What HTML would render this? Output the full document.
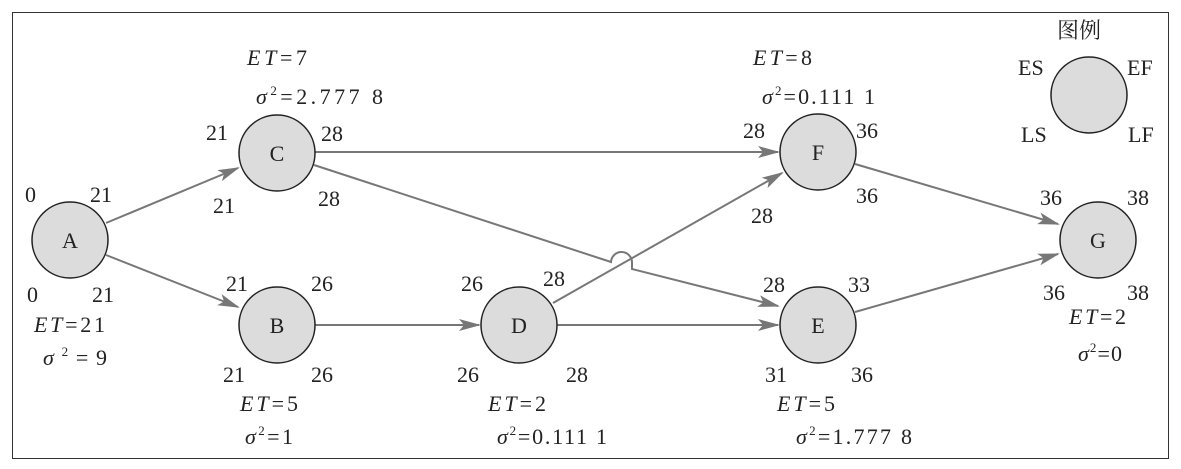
<!DOCTYPE html>
<html><head><meta charset="utf-8"><style>
html,body{margin:0;padding:0;background:#fff;}
svg{display:block;}
text{font-family:"Liberation Serif","Noto Serif CJK SC",serif;font-size:22px;fill:#222;}
.i{font-style:italic;}
</style></head><body>
<svg width="1181" height="469" viewBox="0 0 1181 469" xmlns="http://www.w3.org/2000/svg">
<defs><marker id="ar" markerWidth="22" markerHeight="12" refX="20" refY="6" orient="auto" markerUnits="userSpaceOnUse"><path d="M0,0 L22,6 L0,12 L5,6 Z" fill="#777"/></marker></defs>
<rect x="12.5" y="12.5" width="1156" height="446" fill="none" stroke="#333" stroke-width="1"/>
<g stroke="#777" stroke-width="2" fill="none">
<line x1="106" y1="223" x2="238" y2="168" marker-end="url(#ar)"/>
<line x1="106" y1="255" x2="238" y2="307" marker-end="url(#ar)"/>
<line x1="315" y1="152" x2="778" y2="152" marker-end="url(#ar)"/>
<path d="M314,165 L611,262 A10.5 10.5 0 0 1 632,263 L632,269 L778,306" marker-end="url(#ar)"/>
<line x1="315" y1="325" x2="479" y2="325" marker-end="url(#ar)"/>
<line x1="556" y1="325" x2="778" y2="325" marker-end="url(#ar)"/>
<line x1="553" y1="303" x2="782" y2="173" marker-end="url(#ar)"/>
<line x1="855" y1="164" x2="1058" y2="224" marker-end="url(#ar)"/>
<line x1="855" y1="312" x2="1058" y2="254" marker-end="url(#ar)"/>
</g>
<g fill="#dcdcdc" stroke="#222" stroke-width="1.5">
<circle cx="70" cy="240" r="38"/><circle cx="277" cy="153" r="38"/><circle cx="277" cy="325" r="38"/>
<circle cx="519" cy="325" r="38"/><circle cx="818" cy="152" r="38"/><circle cx="818" cy="325" r="38"/>
<circle cx="1098" cy="240" r="38"/><circle cx="1089" cy="95" r="38"/>
</g>
<g text-anchor="middle" style="font-size:23px">
<text x="70" y="248">A</text><text x="277" y="161">C</text><text x="277" y="333">B</text>
<text x="519" y="333">D</text><text x="818" y="160">F</text><text x="818" y="333">E</text><text x="1098" y="248">G</text>
</g>
<text x="25" y="202">0</text><text x="90" y="202">21</text><text x="27" y="302">0</text><text x="92" y="302">21</text>
<text x="34" y="332" textLength="71" lengthAdjust="spacing"><tspan class="i">ET</tspan>=21</text>
<text x="43" y="365" textLength="64" lengthAdjust="spacing"><tspan class="i">σ</tspan><tspan font-size="13" dy="-9">2</tspan><tspan dy="9">=9</tspan></text>
<text x="206" y="140">21</text><text x="321" y="141">28</text><text x="213" y="213">21</text><text x="318" y="206">28</text>
<text x="247" y="65" textLength="60" lengthAdjust="spacing"><tspan class="i">ET</tspan>=7</text>
<text x="256" y="104" textLength="127" lengthAdjust="spacing"><tspan class="i">σ</tspan><tspan font-size="13" dy="-9">2</tspan><tspan dy="9">=2.777 8</tspan></text>
<text x="226" y="291">21</text><text x="311" y="291">26</text><text x="223" y="382">21</text><text x="311" y="382">26</text>
<text x="240" y="411" textLength="58" lengthAdjust="spacing"><tspan class="i">ET</tspan>=5</text>
<text x="245" y="444" textLength="48" lengthAdjust="spacing"><tspan class="i">σ</tspan><tspan font-size="13" dy="-9">2</tspan><tspan dy="9">=1</tspan></text>
<text x="461" y="291">26</text><text x="543" y="286">28</text><text x="457" y="382">26</text><text x="566" y="382">28</text>
<text x="488" y="411" textLength="58" lengthAdjust="spacing"><tspan class="i">ET</tspan>=2</text>
<text x="497" y="444" textLength="110" lengthAdjust="spacing"><tspan class="i">σ</tspan><tspan font-size="13" dy="-9">2</tspan><tspan dy="9">=0.111 1</tspan></text>
<text x="743" y="138">28</text><text x="856" y="138">36</text><text x="856" y="203">36</text><text x="751" y="223">28</text>
<text x="753" y="65" textLength="59" lengthAdjust="spacing"><tspan class="i">ET</tspan>=8</text>
<text x="762" y="104" textLength="113" lengthAdjust="spacing"><tspan class="i">σ</tspan><tspan font-size="13" dy="-9">2</tspan><tspan dy="9">=0.111 1</tspan></text>
<text x="763" y="292">28</text><text x="848" y="292">33</text><text x="765" y="382">31</text><text x="851" y="382">36</text>
<text x="777" y="411" textLength="58" lengthAdjust="spacing"><tspan class="i">ET</tspan>=5</text>
<text x="796" y="444" textLength="116" lengthAdjust="spacing"><tspan class="i">σ</tspan><tspan font-size="13" dy="-9">2</tspan><tspan dy="9">=1.777 8</tspan></text>
<text x="1040" y="205">36</text><text x="1127" y="205">38</text><text x="1043" y="300">36</text><text x="1127" y="300">38</text>
<text x="1069" y="324" textLength="57" lengthAdjust="spacing"><tspan class="i">ET</tspan>=2</text>
<text x="1078" y="361" textLength="44" lengthAdjust="spacing"><tspan class="i">σ</tspan><tspan font-size="13" dy="-9">2</tspan><tspan dy="9">=0</tspan></text>
<text x="1057" y="38" style="font-size:22px">图例</text>
<text x="1018" y="75">ES</text><text x="1127" y="75">EF</text><text x="1021" y="142">LS</text><text x="1128" y="142">LF</text>
</svg>
</body></html>
